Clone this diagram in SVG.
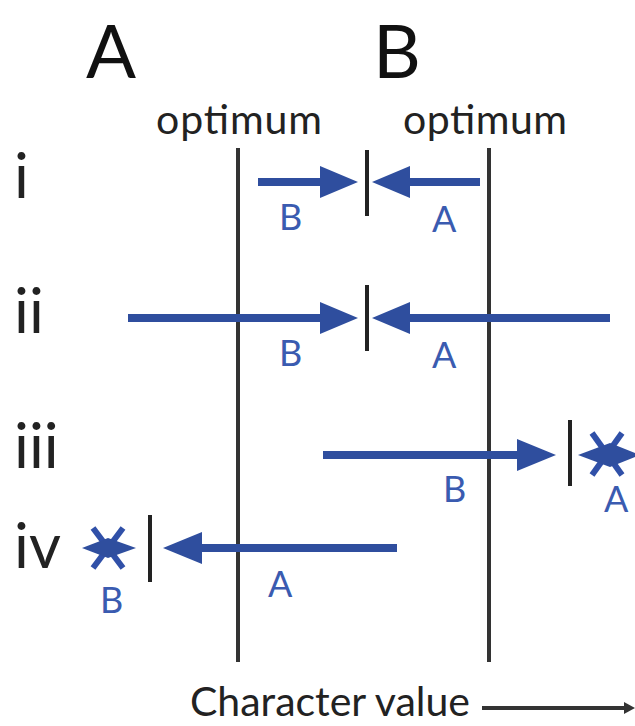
<svg xmlns="http://www.w3.org/2000/svg" width="635" height="726" viewBox="0 0 635 726">
<style>
.axis{stroke:#333;stroke-width:4;fill:none}
.bar{stroke:#222;stroke-width:4;fill:none}
.arr{stroke:#2F4E9E;stroke-width:8;fill:none}
.head{fill:#2F4E9E}
.big{font-family:Lato,"Open Sans",sans-serif;font-size:74px;fill:#111}
.row{font-family:Lato,"Open Sans",sans-serif;font-size:62px;fill:#222}
.opt{font-family:Lato,"Open Sans",sans-serif;font-size:41px;fill:#222}
.lbl{font-family:Lato,"Open Sans",sans-serif;font-size:36px;fill:#3A5BB0}
.cross{stroke:#3050A8;stroke-width:6}
</style>
<rect width="635" height="726" fill="#fff"/>
<g id="headers">
<text class="big" x="86" y="78">A</text>
<text class="big" x="373" y="78">B</text>
<text class="opt" x="156" y="134" textLength="166">optimum</text>
<text class="opt" x="403" y="134" textLength="164">optimum</text>
</g>
<g id="rows">
<text class="row" x="14" y="198">i</text>
<text class="row" x="14" y="333">ii</text>
<text class="row" x="14" y="468">iii</text>
<text class="row" x="14" y="568">iv</text>
</g>
<g id="optima">
<line class="axis" x1="238" y1="148" x2="238" y2="662"/>
<line class="axis" x1="489" y1="148" x2="489" y2="662"/>
</g>
<g id="connectors">
<line class="arr" x1="258" y1="182" x2="325" y2="182"/>
<polygon class="head" points="358,182 320,166 320,198"/>
<line class="arr" x1="480" y1="182" x2="405" y2="182"/>
<polygon class="head" points="372,182 410,166 410,198"/>
<line class="arr" x1="128" y1="318" x2="325" y2="318"/>
<polygon class="head" points="358,318 320,302 320,334"/>
<line class="arr" x1="610" y1="318" x2="405" y2="318"/>
<polygon class="head" points="372,318 410,302 410,334"/>
<line class="arr" x1="323" y1="455" x2="522" y2="455"/>
<polygon class="head" points="556,455 517,439 517,471"/>
<line class="arr" x1="397" y1="548" x2="198" y2="548"/>
<polygon class="head" points="163,548 202,532 202,564"/>
</g>
<g id="row-i">
<line class="bar" x1="367" y1="150" x2="367" y2="216"/>
<text class="lbl" x="279" y="230">B</text>
<text class="lbl" x="432" y="232">A</text>
</g>
<g id="row-ii">
<line class="bar" x1="367" y1="285" x2="367" y2="351"/>
<text class="lbl" x="279" y="366">B</text>
<text class="lbl" x="432" y="368">A</text>
</g>
<g id="row-iii">
<line class="bar" x1="570" y1="420" x2="570" y2="486"/>
<line class="cross" x1="592" y1="433" x2="622" y2="475"/>
<line class="cross" x1="622" y1="433" x2="592" y2="475"/>
<polygon class="head" points="578,455 610,443 640,455 610,467"/>
<text class="lbl" x="443" y="502">B</text>
<text class="lbl" x="604" y="512">A</text>
</g>
<g id="row-iv">
<line class="bar" x1="150" y1="515" x2="150" y2="582"/>
<line class="cross" x1="93" y1="528" x2="123" y2="568"/>
<line class="cross" x1="123" y1="528" x2="93" y2="568"/>
<polygon class="head" points="82,548 108,538 136,548 108,558"/>
<text class="lbl" x="268" y="597">A</text>
<text class="lbl" x="100" y="613">B</text>
</g>
<g id="xaxis">
<text class="opt" x="190" y="716" textLength="280">Character value</text>
<line x1="482" y1="708" x2="628" y2="708" stroke="#333" stroke-width="4"/>
<polygon points="635,708 624,702 624,714" fill="#333"/>
</g>
</svg>
